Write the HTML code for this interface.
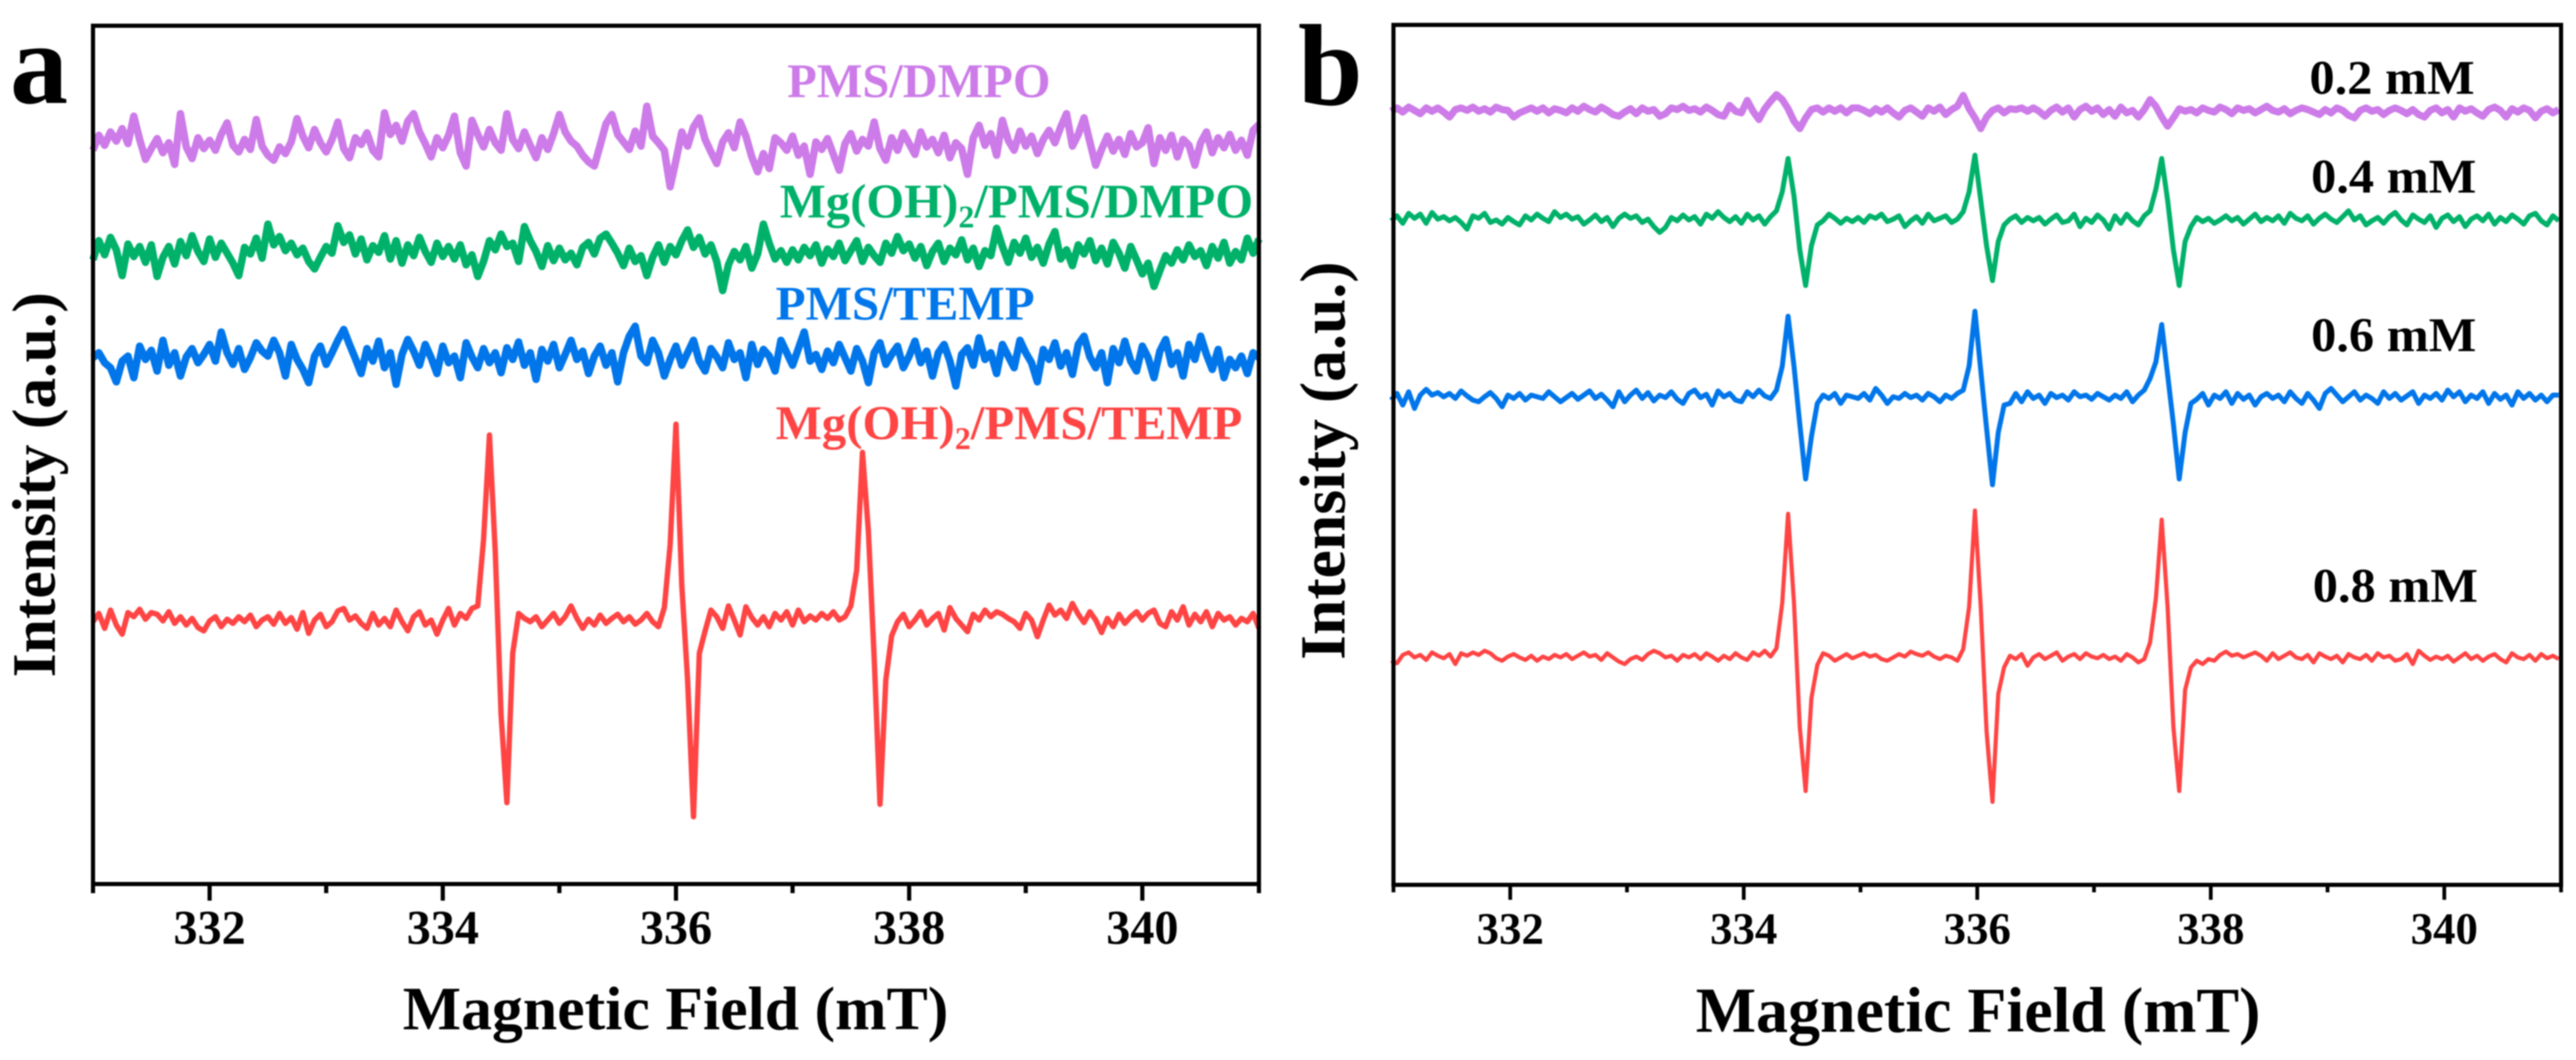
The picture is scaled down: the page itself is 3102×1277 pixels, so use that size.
<!DOCTYPE html>
<html lang="en">
<head>
<meta charset="utf-8">
<title>EPR spectra of Mg(OH)2/PMS systems</title>
<style>
html,body{margin:0;padding:0;background:#fff;}
svg{display:block;filter:blur(0.9px);}
text{font-family:"Liberation Serif",serif;font-weight:bold;fill:#000;}
</style>
</head>
<body>
<svg id="figure" xmlns="http://www.w3.org/2000/svg" width="3102" height="1277" viewBox="0 0 3102 1277">
  <rect x="0" y="0" width="3102" height="1277" fill="#fff"/>

  <text x="12" y="124" font-size="140">a</text>
  <text x="1563" y="126" font-size="140">b</text>

  <g id="panelA"></g>
  <g id="panelB"></g>

  <text transform="translate(66,816) rotate(-90)" font-size="74" textLength="464" lengthAdjust="spacingAndGlyphs">Intensity (a.u.)</text>
  <text transform="translate(1619,795) rotate(-90)" font-size="77" textLength="480" lengthAdjust="spacingAndGlyphs">Intensity (a.u.)</text>
  <text x="485" y="1240" font-size="74" textLength="657" lengthAdjust="spacingAndGlyphs">Magnetic Field (mT)</text>
  <text x="2042" y="1243" font-size="77" textLength="680" lengthAdjust="spacingAndGlyphs">Magnetic Field (mT)</text>

  <text x="948" y="117" font-size="58" style="fill:#cc7be8" textLength="317" lengthAdjust="spacingAndGlyphs">PMS/DMPO</text>
  <text x="939" y="262" font-size="58" style="fill:#00b16a" textLength="570" lengthAdjust="spacingAndGlyphs">Mg(OH)<tspan font-size="38" dy="12">2</tspan><tspan dy="-12">/PMS/DMPO</tspan></text>
  <text x="934" y="385" font-size="58" style="fill:#0076ea" textLength="312" lengthAdjust="spacingAndGlyphs">PMS/TEMP</text>
  <text x="934" y="529" font-size="58" style="fill:#ff4444" textLength="562" lengthAdjust="spacingAndGlyphs">Mg(OH)<tspan font-size="38" dy="12">2</tspan><tspan dy="-12">/PMS/TEMP</tspan></text>

  <text x="2781" y="113" font-size="58" textLength="199" lengthAdjust="spacingAndGlyphs">0.2 mM</text>
  <text x="2783" y="232" font-size="58" textLength="199" lengthAdjust="spacingAndGlyphs">0.4 mM</text>
  <text x="2783" y="423" font-size="58" textLength="199" lengthAdjust="spacingAndGlyphs">0.6 mM</text>
  <text x="2785" y="725" font-size="58" textLength="199" lengthAdjust="spacingAndGlyphs">0.8 mM</text>
</svg>

<script>
const majorTicks = [332, 334, 336, 338, 340];
const minorTicks = [331, 333, 335, 337, 339, 341];
const fieldStartA = 331;
const fieldStartB = 330.98;
const fieldStep = 0.05;

const pmsDmpoA = [
884,902,890,906,895,910,892,925,897,873,
886,898,881,893,867,928,888,874,899,886,
896,884,903,917,890,882,897,885,921,889,
878,872,888,880,894,922,901,887,909,893,
882,897,918,886,875,899,891,905,884,876,
929,903,914,895,919,928,906,892,876,899,
887,902,925,881,865,920,903,888,909,893,
884,928,897,886,906,890,875,899,885,904,
927,906,895,889,878,870,865,890,916,927,
903,894,885,907,889,937,901,893,884,840,
872,906,889,912,923,897,882,868,894,905,
887,918,901,876,858,880,862,899,893,884,
901,878,889,855,894,885,898,879,860,892,
904,883,897,889,918,886,872,899,884,905,
892,879,906,888,897,881,902,875,893,886,
855,899,914,890,904,878,920,896,884,907,
889,901,880,897,908,893,912,928,889,903,
923,894,866,885,901,883,897,879,904,888,
893,911,868,899,884,902,876,897,890,866,
893,906,881,899,887,903,884,896,878,908,915];

const mgPmsDmpoA = [
752,775,758,779,764,733,771,756,768,749,
770,732,755,768,747,774,757,781,762,750,
777,755,772,760,748,733,767,759,778,754,
795,770,780,763,772,758,766,750,741,755,
768,760,793,773,782,759,777,752,769,761,
781,753,775,748,770,757,779,762,749,772,
756,768,753,770,746,758,732,750,775,764,
783,768,772,750,792,775,762,744,769,751,
766,752,760,746,767,773,759,778,783,772,
760,745,766,750,757,733,755,770,749,768,
758,775,788,767,779,759,770,750,715,746,
762,752,768,742,759,795,772,753,763,749,
764,752,767,757,770,748,765,756,772,751,
763,775,750,767,757,749,772,760,780,763,
771,754,768,745,762,772,750,766,758,776,
752,766,744,763,757,790,768,749,773,760,
778,755,767,748,771,786,753,764,745,770,
759,775,751,766,747,773,760,742,768,752,
735,748,720,739,757,748,764,752,770,756,
763,745,768,754,773,748,762,752,778,760,777];

const pmsTempA = [
634,640,628,622,605,630,636,610,648,632,
643,618,655,625,640,612,635,645,628,638,
650,630,665,640,626,645,620,634,652,642,
636,655,640,612,650,632,620,604,636,648,
626,640,655,668,650,633,615,645,630,654,
622,640,602,638,656,642,625,650,634,615,
648,628,636,610,652,635,622,645,628,640,
616,646,632,653,625,640,608,644,630,650,
622,638,655,632,642,615,636,648,625,640,
605,640,660,672,636,628,655,640,612,632,
648,625,640,655,630,618,645,635,622,652,
632,640,610,650,626,644,636,618,655,640,
625,645,665,630,638,620,642,628,650,634,
618,645,630,604,640,652,626,638,648,622,
636,654,628,642,612,640,650,630,600,638,
646,625,658,632,640,615,650,636,622,655,
640,628,605,644,632,652,624,640,614,650,
660,635,622,640,604,645,628,654,630,618,
648,634,610,642,656,626,640,612,650,632,
660,638,620,644,610,632,622,636,615,640,634];

const mgPmsTempA = [
316,326,308,330,312,301,327,322,331,319,
327,325,317,328,314,322,312,320,309,305,
317,322,310,319,314,322,316,324,310,318,
322,313,326,314,321,307,327,302,318,325,
310,316,329,332,318,323,314,308,326,312,
320,310,330,316,305,322,328,312,318,301,
318,332,312,326,320,332,335,415,541,400,
204,98,278,326,320,316,322,310,318,326,
314,322,335,320,308,319,312,324,314,320,
325,316,322,313,318,326,316,310,333,409,
554,360,246,81,278,305,330,322,308,335,
318,300,334,321,312,322,310,326,318,328,
312,330,316,323,318,326,320,328,318,322,
335,378,520,425,272,96,246,299,316,325,
310,318,328,312,320,326,306,333,320,312,
304,325,318,330,322,328,325,320,316,308,
326,318,298,318,336,324,330,320,338,325,
315,328,318,303,320,310,325,314,322,328,
318,326,330,314,310,328,318,334,312,325,
316,328,310,326,318,322,312,320,316,326,308];

const conc02 = [
932,936,931,937,933,929,936,932,936,931,
925,934,936,933,937,932,935,931,937,934,
933,925,930,933,936,932,936,930,935,933,
930,936,932,938,934,931,937,933,928,926,
931,935,929,936,932,934,926,929,936,934,
938,933,935,931,937,933,928,926,939,932,
930,945,932,922,935,944,952,946,935,920,
911,924,934,936,931,936,932,936,930,936,
936,933,929,935,931,936,930,925,933,936,
931,926,936,932,937,928,934,938,951,935,
924,911,925,933,936,930,935,934,936,932,
936,932,926,933,937,931,936,925,934,938,
932,936,928,934,926,937,930,933,925,934,
946,938,925,914,924,935,932,934,930,936,
933,931,937,934,929,936,933,935,930,934,
938,933,931,935,929,933,936,934,931,928,
934,930,936,933,927,924,933,936,932,934,
928,933,936,933,929,934,928,925,933,936,
930,934,925,936,932,935,930,926,934,937,
933,925,935,931,936,933,924,932,935,930,934];

const conc04 = [
800,806,797,809,803,808,797,810,802,805,
800,804,798,790,806,803,809,798,801,796,
804,799,795,806,801,808,803,799,811,804,
808,802,805,796,801,807,799,804,793,803,
808,803,806,798,802,793,786,792,804,800,
807,801,805,796,808,803,811,804,799,805,
797,808,801,806,796,805,812,835,875,830,
765,722,770,795,800,808,803,797,803,799,
804,798,806,803,808,799,802,806,793,800,
805,797,808,800,803,806,798,802,811,835,
879,825,770,728,775,795,802,806,798,804,
800,804,796,802,807,798,800,808,793,803,
798,807,801,790,806,797,808,800,795,806,
812,838,875,825,765,722,775,793,804,799,
803,797,801,806,800,804,796,802,808,799,
804,800,806,797,809,803,800,806,796,803,
808,802,798,805,812,801,806,795,800,804,
797,805,810,801,795,807,802,798,806,792,
803,807,799,805,793,802,806,800,808,796,
804,799,807,802,796,806,809,800,795,806,800];

const conc06 = [
584,592,578,594,574,590,597,590,593,588,
592,586,595,589,584,582,588,593,586,576,
590,586,592,584,590,588,586,594,588,582,
587,592,585,590,595,586,591,584,576,594,
582,590,596,586,593,583,590,587,594,585,
580,592,596,587,591,578,595,588,592,584,
582,594,588,596,589,586,596,625,685,625,
555,489,540,580,590,586,592,580,590,588,
586,592,584,598,590,580,588,586,592,587,
590,584,592,588,582,590,586,592,596,625,
691,620,550,482,545,578,580,592,582,594,
586,590,580,592,587,590,584,594,588,590,
585,592,588,584,590,586,594,582,590,596,
610,630,675,615,555,489,545,580,585,592,
578,590,586,594,580,592,585,590,578,588,
592,586,590,582,594,586,580,592,584,574,
592,598,590,582,588,594,584,590,586,580,
594,586,592,584,589,594,580,590,586,592,
584,596,588,594,582,590,586,594,580,592,
585,590,578,594,586,592,584,590,582,590,590];

const conc08 = [
270,267,277,280,274,277,271,280,276,273,
278,266,279,276,280,277,282,279,273,270,
275,278,274,271,276,270,275,272,277,274,
278,272,276,280,275,277,271,279,274,269,
266,272,275,271,278,282,279,274,276,270,
277,274,278,272,279,275,270,276,272,279,
274,271,280,276,282,275,285,340,447,340,
190,113,225,265,279,276,270,274,278,273,
276,279,275,277,272,270,274,278,275,281,
278,276,280,275,272,276,274,270,284,335,
451,335,185,100,230,262,276,272,278,264,
274,278,272,276,280,270,275,278,272,279,
275,273,277,272,275,270,278,274,268,272,
292,345,440,335,190,113,235,262,270,266,
272,270,277,281,276,278,274,277,280,276,
270,279,272,276,280,274,272,277,268,279,
275,272,276,268,278,274,272,277,270,279,
274,276,270,272,278,266,282,276,271,275,
272,276,269,274,279,272,276,270,275,278,
272,268,279,274,272,277,270,278,273,276,272];

const SVG_NS = 'http://www.w3.org/2000/svg';

function linearScale(d0, d1, r0, r1) {
  return function (v) { return r0 + (v - d0) * (r1 - r0) / (d1 - d0); };
}

function drawSeries(group, values, start, xScale, yScale, color, width, name) {
  const pts = values.map(function (v, i) {
    return xScale(start + i * fieldStep).toFixed(1) + ',' + yScale(v).toFixed(1);
  }).join(' ');
  const el = document.createElementNS(SVG_NS, 'polyline');
  el.setAttribute('points', pts);
  el.setAttribute('fill', 'none');
  el.setAttribute('stroke', color);
  el.setAttribute('stroke-width', width);
  el.setAttribute('stroke-linejoin', 'round');
  
  
  group.appendChild(el);
}

function drawTick(group, value, xScale, y0, len, width, name) {
  const el = document.createElementNS(SVG_NS, 'line');
  el.setAttribute('x1', xScale(value));
  el.setAttribute('x2', xScale(value));
  el.setAttribute('y1', y0);
  el.setAttribute('y2', y0 + len);
  el.setAttribute('stroke', '#000');
  el.setAttribute('stroke-width', width);
  
  
  group.appendChild(el);
}

function drawTickLabel(group, value, xScale, y, size, name) {
  const el = document.createElementNS(SVG_NS, 'text');
  el.setAttribute('x', xScale(value));
  el.setAttribute('y', y);
  el.setAttribute('text-anchor', 'middle');
  el.setAttribute('font-size', size);
  
  
  el.textContent = String(value);
  group.appendChild(el);
}

function drawFrame(group, x0, y0, x1, y1, width, name) {
  const el = document.createElementNS(SVG_NS, 'rect');
  el.setAttribute('x', x0);
  el.setAttribute('y', y0);
  el.setAttribute('width', x1 - x0);
  el.setAttribute('height', y1 - y0);
  el.setAttribute('fill', 'none');
  el.setAttribute('stroke', '#000');
  el.setAttribute('stroke-width', width);
  
  
  group.appendChild(el);
}

const gA = document.getElementById('panelA');
const xA = linearScale(331, 341, 112, 1516);
const yA = linearScale(0, 1035, 1065, 30);
drawSeries(gA, pmsDmpoA, fieldStartA, xA, yA, '#cc7be8', 9, 'series-pms-dmpo');
drawSeries(gA, mgPmsDmpoA, fieldStartA, xA, yA, '#00b16a', 9, 'series-mg-pms-dmpo');
drawSeries(gA, pmsTempA, fieldStartA, xA, yA, '#0076ea', 9, 'series-pms-temp');
drawSeries(gA, mgPmsTempA, fieldStartA, xA, yA, '#ff4444', 6.5, 'series-mg-pms-temp');
drawFrame(gA, 112, 31, 1516, 1065, 5, 'panel-a-frame');
majorTicks.forEach(function (t) {
  drawTick(gA, t, xA, 1065, 20, 5, 'panel-a-major-tick');
  drawTickLabel(gA, t, xA, 1137, 58, 'panel-a-tick-label');
});
minorTicks.forEach(function (t) {
  drawTick(gA, t, xA, 1065, 11, 5, 'panel-a-minor-tick');
});

const gB = document.getElementById('panelB');
const xB = linearScale(331, 341, 1678, 3084);
const yB = linearScale(0, 1036, 1066, 30);
drawSeries(gB, conc02, fieldStartB, xB, yB, '#cc7be8', 8.5, 'series-0-2-mm');
drawSeries(gB, conc04, fieldStartB, xB, yB, '#00b16a', 6, 'series-0-4-mm');
drawSeries(gB, conc06, fieldStartB, xB, yB, '#0076ea', 6, 'series-0-6-mm');
drawSeries(gB, conc08, fieldStartB, xB, yB, '#ff4444', 5, 'series-0-8-mm');
drawFrame(gB, 1678, 30, 3084, 1066, 5, 'panel-b-frame');
majorTicks.forEach(function (t) {
  drawTick(gB, t, xB, 1066, 18, 4.5, 'panel-b-major-tick');
  drawTickLabel(gB, t, xB, 1137, 54, 'panel-b-tick-label');
});
minorTicks.forEach(function (t) {
  drawTick(gB, t, xB, 1066, 9, 4.5, 'panel-b-minor-tick');
});
</script>
</body>
</html>
